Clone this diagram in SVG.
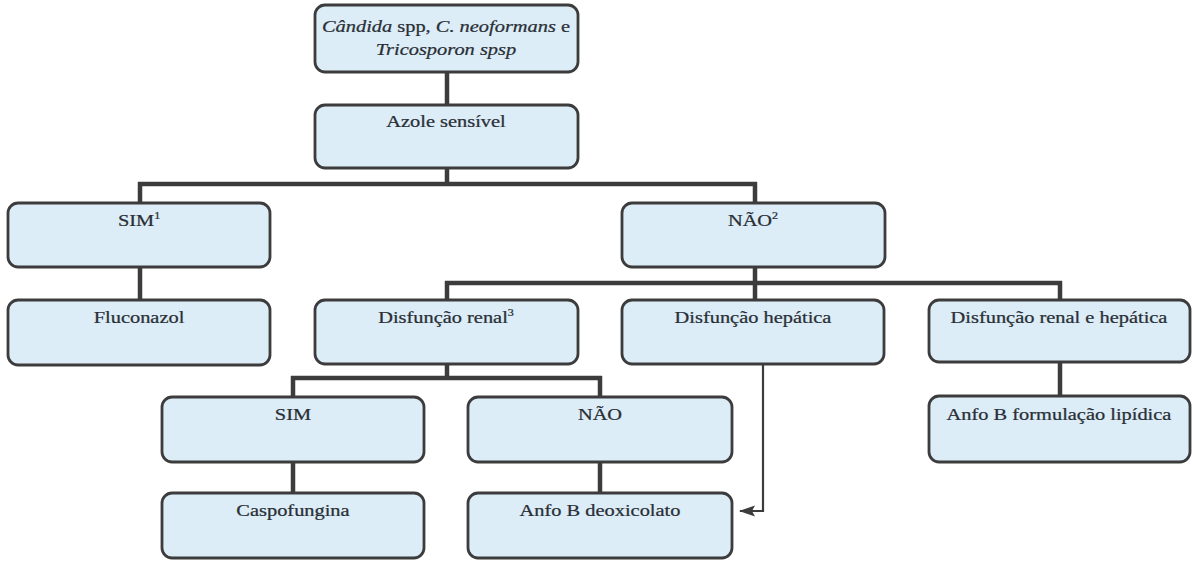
<svg xmlns="http://www.w3.org/2000/svg" width="1192" height="563" viewBox="0 0 1192 563">
<defs>
<style>
.box{fill:#dcedf8;stroke:#3c3c3c;stroke-width:2.8}
.t{font-family:"Liberation Serif","Times New Roman","DejaVu Serif",serif;font-size:17px;fill:#2a2f36;stroke:#2a2f36;stroke-width:0.25;text-anchor:middle}
.c{stroke:#3c3c3c;stroke-width:4.5;fill:none}
.a{stroke:#3c3c3c;stroke-width:2.2;fill:none}
</style>
<marker id="ah" markerWidth="16" markerHeight="12" refX="15" refY="6" orient="auto" markerUnits="userSpaceOnUse">
<path d="M0,0.5 L16,6 L0,11.5 L3,6 Z" fill="#3c3c3c"/>
</marker>
</defs>
<rect width="1192" height="563" fill="#fff"/>
<g id="connectors">
<path class="c" d="M447,72 V105"/>
<path class="c" d="M447,168 V184 M138,184 H757 M140,182 V203 M755,182 V203"/>
<path class="c" d="M140,267 V300"/>
<path class="c" d="M755,267 V283 M445,283 H1062 M447,281 V300 M755,281 V300 M1060,281 V300"/>
<path class="c" d="M1060,362 V396"/>
<path class="c" d="M447,365 V378 M291,378 H602 M293,376 V397 M600,376 V397"/>
<path class="c" d="M293,462 V493 M600,462 V493"/>
<path class="a" d="M763,364 V511 H740" marker-end="url(#ah)"/>
</g>
<g id="n1"><rect class="box" x="315" y="5" width="263" height="67" rx="10"/>
<text class="t" transform="translate(446,32) scale(1.2,1)"><tspan font-style="italic">Cândida</tspan> spp, <tspan font-style="italic">C. neoformans</tspan> e</text>
<text class="t" transform="translate(446,55) scale(1.2,1)" font-style="italic">Tricosporon spsp</text></g>
<g id="n2"><rect class="box" x="315" y="105" width="263" height="63" rx="10"/>
<text class="t" transform="translate(446,127) scale(1.2,1)">Azole sensível</text></g>
<g id="n3"><rect class="box" x="8" y="203" width="262" height="64" rx="10"/>
<text class="t" transform="translate(139,226) scale(1.2,1)">SIM<tspan font-size="10" dy="-7">1</tspan></text></g>
<g id="n4"><rect class="box" x="622" y="203" width="263" height="64" rx="10"/>
<text class="t" transform="translate(753,226) scale(1.2,1)">NÃO<tspan font-size="10" dy="-7">2</tspan></text></g>
<g id="n5"><rect class="box" x="8" y="300" width="262" height="65" rx="10"/>
<text class="t" transform="translate(139,323) scale(1.2,1)">Fluconazol</text></g>
<g id="n6"><rect class="box" x="315" y="300" width="263" height="64" rx="10"/>
<text class="t" transform="translate(446,323) scale(1.2,1)">Disfunção renal<tspan font-size="10" dy="-7">3</tspan></text></g>
<g id="n7"><rect class="box" x="622" y="300" width="262" height="64" rx="10"/>
<text class="t" transform="translate(753,323) scale(1.2,1)">Disfunção hepática</text></g>
<g id="n8"><rect class="box" x="929" y="300" width="261" height="62" rx="10"/>
<text class="t" transform="translate(1059,323) scale(1.2,1)">Disfunção renal e hepática</text></g>
<g id="n9"><rect class="box" x="162" y="397" width="262" height="65" rx="10"/>
<text class="t" transform="translate(293,420) scale(1.2,1)">SIM</text></g>
<g id="n10"><rect class="box" x="468" y="397" width="264" height="65" rx="10"/>
<text class="t" transform="translate(600,420) scale(1.2,1)">NÃO</text></g>
<g id="n11"><rect class="box" x="929" y="396" width="261" height="66" rx="10"/>
<text class="t" transform="translate(1059,420) scale(1.2,1)">Anfo B formulação lipídica</text></g>
<g id="n12"><rect class="box" x="162" y="493" width="262" height="65" rx="10"/>
<text class="t" transform="translate(293,516) scale(1.2,1)">Caspofungina</text></g>
<g id="n13"><rect class="box" x="468" y="493" width="264" height="65" rx="10"/>
<text class="t" transform="translate(600,516) scale(1.2,1)">Anfo B deoxicolato</text></g>
</svg>
